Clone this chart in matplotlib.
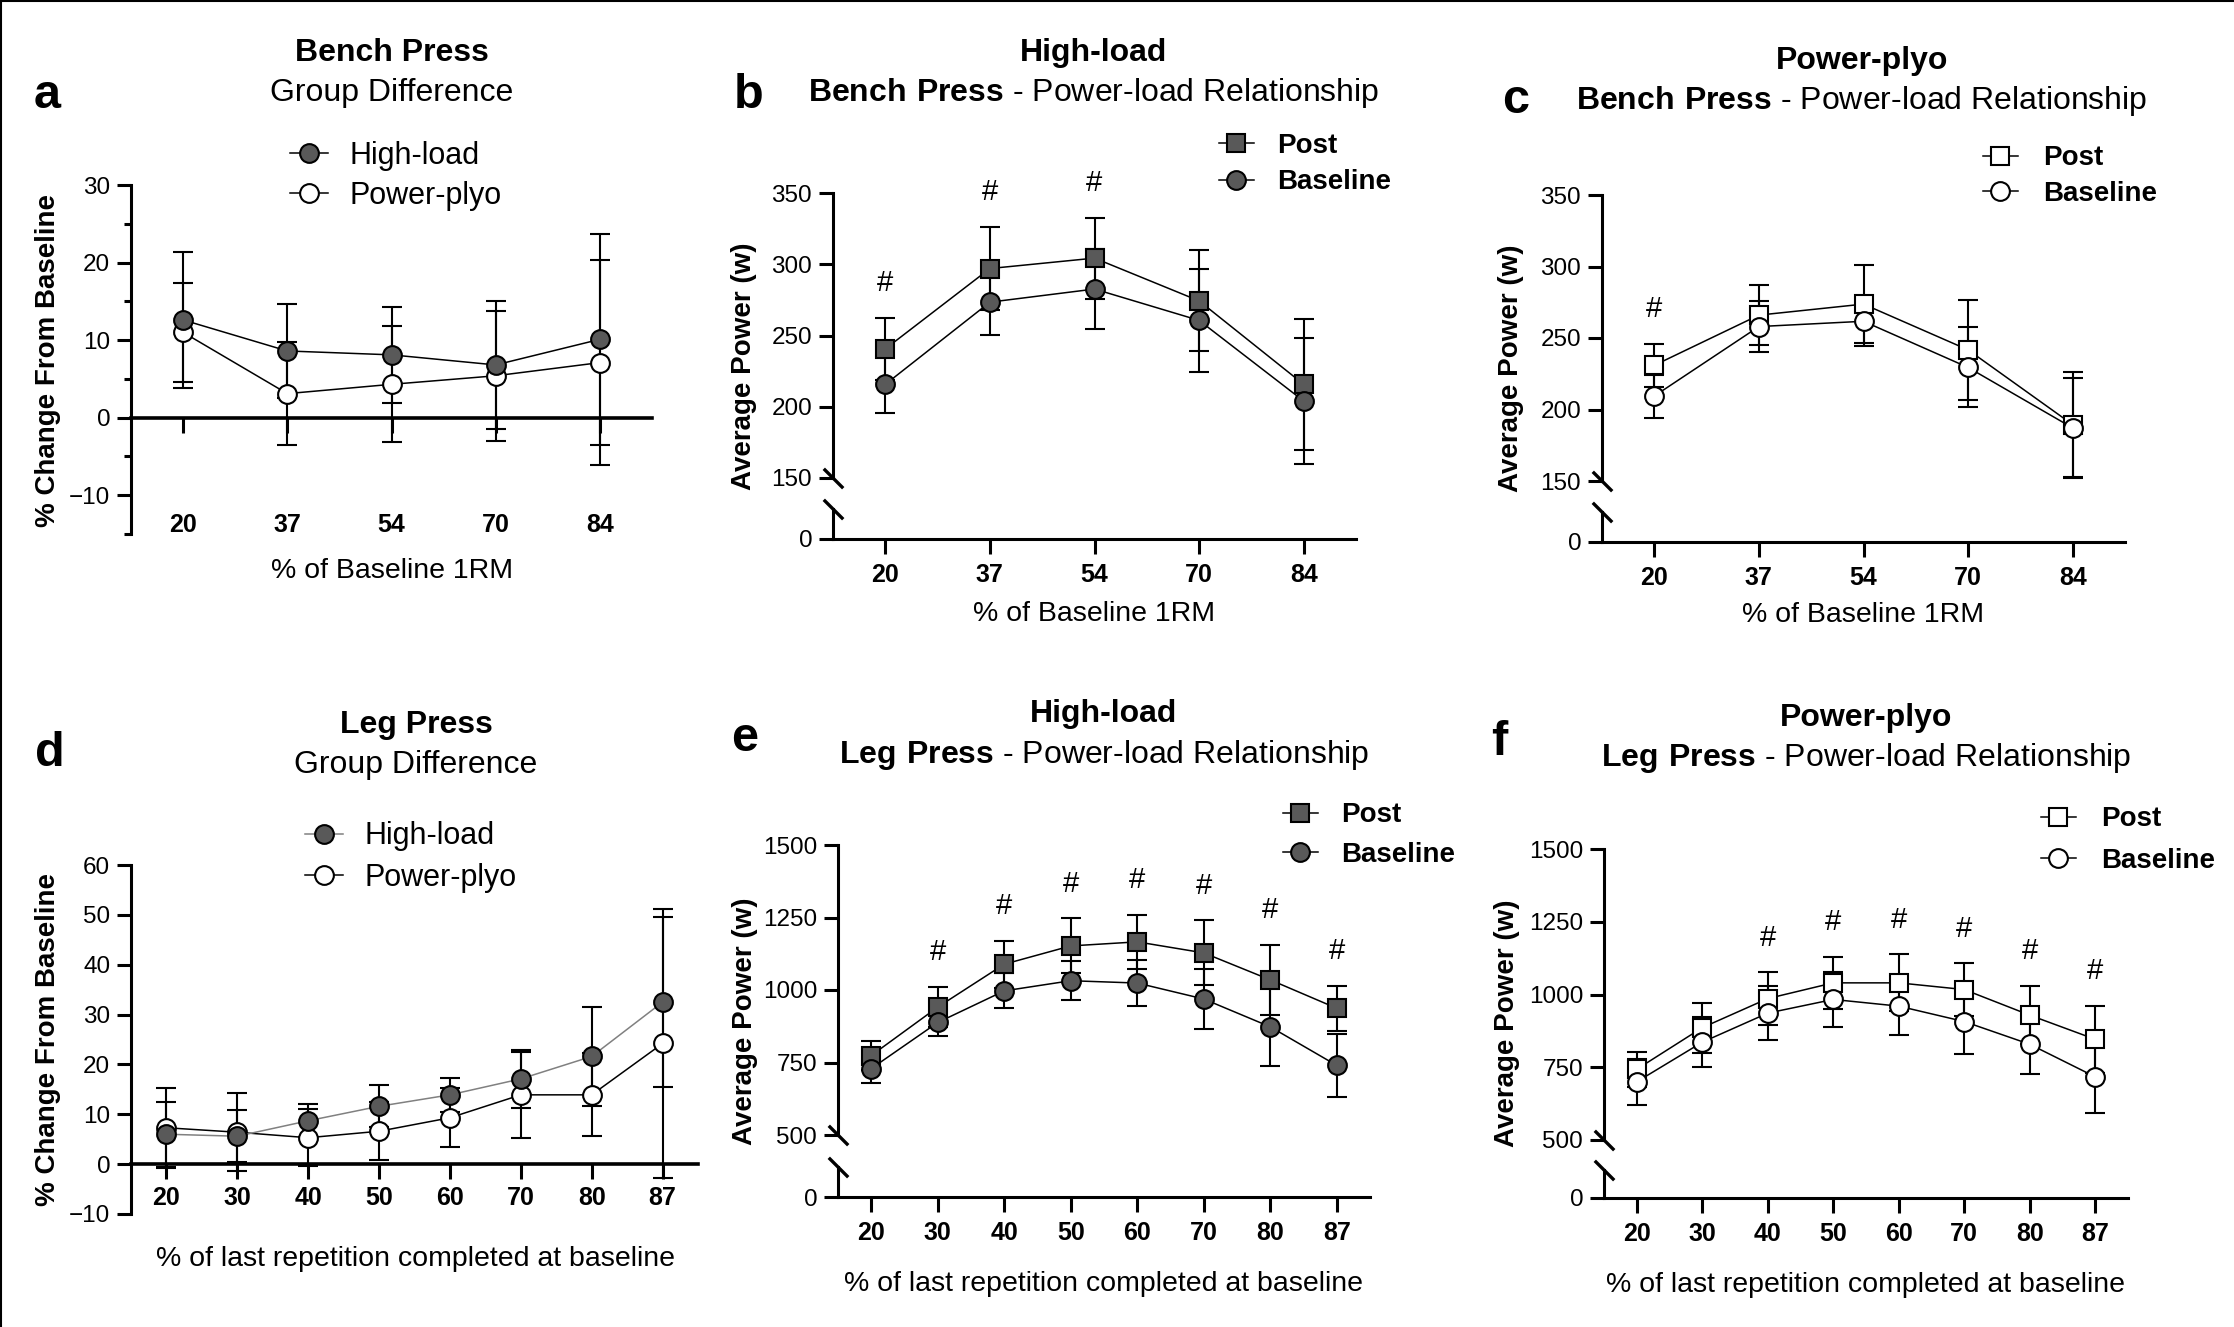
import numpy as np
import matplotlib
matplotlib.use('Agg')
import matplotlib.pyplot as plt
from matplotlib.lines import Line2D

plt.rcParams['font.family'] = 'Liberation Sans'
plt.rcParams['mathtext.fontset'] = 'custom'
plt.rcParams['mathtext.rm'] = 'Liberation Sans'
plt.rcParams['mathtext.bf'] = 'Liberation Sans:bold'

# ---- data ----
bench_loads = ['20', '37', '54', '70', '84']
leg_loads = ['20', '30', '40', '50', '60', '70', '80', '87']

# a: bench press, % change from baseline
a_hl = [12.6, 8.6, 8.1, 6.8, 10.1]
a_hl_err = [8.8, 6.0, 6.2, 8.3, 13.6]
a_pp = [11.0, 3.1, 4.3, 5.4, 7.1]
a_pp_err = [6.4, 6.6, 7.5, 8.4, 13.2]

# b: high-load bench press power
b_post = [240.6, 297.0, 304.3, 274.3, 215.7]
b_post_err = [22, 29, 28.5, 35.5, 46]
b_base = [215.7, 273.4, 282.6, 260.6, 204.0]
b_base_err = [20, 23, 28, 36, 44]
b_sig = [1, 1, 1, 0, 0]

# c: power-plyo bench press power
c_post = [230.9, 266.0, 273.7, 241.7, 189.4]
c_post_err = [15, 21, 27.5, 35, 36.6]
c_base = [209.4, 258.0, 261.7, 229.4, 187.1]
c_base_err = [15, 18, 17, 28, 35]
c_sig = [1, 0, 0, 0, 0]

# d: leg press, % change from baseline
d_hl = [6.0, 5.6, 8.7, 11.6, 13.9, 17.1, 21.6, 32.5]
d_hl_err = [6.5, 5.2, 3.3, 4.2, 3.4, 5.8, 10.0, 17.0]
d_pp = [7.3, 6.4, 5.3, 6.6, 9.3, 13.9, 13.9, 24.2]
d_pp_err = [8.0, 7.8, 5.7, 5.8, 5.9, 8.6, 8.3, 27.0]

# e: high-load leg press power
e_post = [774, 941, 1089, 1152, 1166, 1128, 1035, 937]
e_post_err = [50, 70, 81, 95, 93, 112, 120, 77]
e_base = [729, 888, 997, 1032, 1024, 969, 873, 740]
e_base_err = [49, 47, 60, 67, 79, 105, 134, 108]
e_sig = [0, 1, 1, 1, 1, 1, 1, 1]

# f: power-plyo leg press power
f_post = [743, 886, 986, 1040, 1040, 1017, 929, 846]
f_post_err = [61, 86, 90, 89, 98, 90, 100, 116]
f_base = [700, 836, 936, 983, 960, 907, 829, 717]
f_base_err = [79, 86, 93, 95, 100, 110, 103, 124]
f_sig = [0, 0, 1, 1, 1, 1, 1, 1]

# ---- layout helpers (pixel coords, origin top-left) ----
W, H = 2234, 1327
DARK = '#595959'
LW = 2.2

fig = plt.figure(figsize=(W / 100, H / 100), dpi=100)


def box(l, t, r, b):
    return fig.add_axes([l / W, 1 - b / H, (r - l) / W, (b - t) / H])


def ftext(x, y, s, **kw):
    fig.text(x / W, 1 - y / H, s, **kw)


def errs(ax, x, y, e):
    ax.errorbar(x, y, yerr=e, fmt='none', ecolor='k', elinewidth=1.5,
                capsize=7, capthick=1.5, zorder=2, clip_on=False)


def series(ax, x, y, marker, face, label, z, color='k'):
    ms = 12.5 if marker == 's' else 13.5
    h, = ax.plot(x, y, color=color, lw=1.1, marker=marker, ms=ms, mfc=face,
                 mec='k', mew=1.5, zorder=z, label=label, clip_on=False)
    return h


def legend(ax, handles, x, y, fs, bold, pad, spacing):
    ax.legend(handles=handles, loc='center left',
              bbox_to_anchor=(x / W, 1 - y / H), bbox_transform=fig.transFigure,
              frameon=False, prop={'size': fs, 'weight': 'bold' if bold else 'normal'},
              handlelength=1.25, handletextpad=pad, labelspacing=spacing,
              borderpad=0, borderaxespad=0, numpoints=1)


def yaxis_style(ax):
    for s in ('top', 'right'):
        ax.spines[s].set_visible(False)
    ax.spines['left'].set_linewidth(LW)
    ax.tick_params(axis='y', which='major', length=10, width=LW, labelsize=17.5, pad=5)
    ax.tick_params(axis='y', which='minor', length=5, width=LW)


def xaxis_style(ax, labels, pad):
    ax.set_xticks(np.arange(len(labels)))
    ax.set_xticklabels(labels, fontweight='bold', fontsize=18)
    ax.tick_params(axis='x', length=11, width=LW, pad=pad)
    ax.spines['bottom'].set_linewidth(LW)
    ax.set_xlim(-0.5, len(labels) - 0.5)


def brk(ax, y):
    ax.plot([0], [y], transform=ax.transAxes, marker=[(-1, 1), (1, -1)], ms=14,
            mec='k', mfc='none', mew=2.4, clip_on=False, zorder=6)


def group_panel(rect, labels, hl, hl_err, pp, pp_err, ylim, yticks, minor,
                pad, hl_line, leg_xy, leg_pad, leg_sp):
    ax = box(*rect)
    x = np.arange(len(labels))
    errs(ax, x, pp, pp_err)
    errs(ax, x, hl, hl_err)
    h_pp = series(ax, x, pp, 'o', 'white', 'Power-plyo', 3)
    h_hl = series(ax, x, hl, 'o', DARK, 'High-load', 4, color=hl_line)
    ax.set_ylim(*ylim)
    ax.set_yticks(yticks)
    if minor:
        ax.set_yticks(minor, minor=True)
    yaxis_style(ax)
    ax.spines['bottom'].set_position(('data', 0))
    xaxis_style(ax, labels, pad)
    ax.spines['bottom'].set_linewidth(2.6)
    legend(ax, [h_hl, h_pp], leg_xy[0], leg_xy[1], 22, False, leg_pad, leg_sp)
    return ax


def power_panel(rect_top, rect_low, labels, post, post_err, base, base_err, sig,
                ylim, yticks, filled, leg_xy, leg_pad, leg_sp):
    top = box(*rect_top)
    low = box(*rect_low)
    x = np.arange(len(labels))
    face = DARK if filled else 'white'
    errs(top, x, post, post_err)
    errs(top, x, base, base_err)
    h_post = series(top, x, post, 's', face, 'Post', 3)
    h_base = series(top, x, base, 'o', face, 'Baseline', 4)
    for i, s in enumerate(sig):
        if s:
            top.annotate('#', xy=(i, post[i] + post_err[i]), xytext=(0, 25),
                         textcoords='offset points', ha='center', va='center',
                         fontsize=21, annotation_clip=False)
    top.set_ylim(*ylim)
    top.set_yticks(yticks)
    yaxis_style(top)
    top.spines['bottom'].set_visible(False)
    top.set_xlim(-0.5, len(labels) - 0.5)
    top.tick_params(axis='x', bottom=False, labelbottom=False)
    low.set_ylim(0, 1)
    low.set_yticks([0])
    yaxis_style(low)
    xaxis_style(low, labels, 6)
    brk(top, 0)
    brk(low, 1)
    legend(top, [h_post, h_base], leg_xy[0], leg_xy[1], 20, True, leg_pad, leg_sp)
    return top, low


# ---- panels ----
group_panel((131, 185, 652, 534), bench_loads, a_hl, a_hl_err, a_pp, a_pp_err,
            (-15, 30), [-10, 0, 10, 20, 30], [-15, -5, 5, 15, 25], 58, 'k',
            (290, 176), 0.7, 0.33)
power_panel((833, 193, 1356, 478), (833, 509, 1356, 539), bench_loads,
            b_post, b_post_err, b_base, b_base_err, b_sig,
            (150, 350), [150, 200, 250, 300, 350], True, (1219, 164), 0.83, 0.38)
power_panel((1602, 195, 2125, 481), (1602, 512, 2125, 542), bench_loads,
            c_post, c_post_err, c_base, c_base_err, c_sig,
            (150, 350), [150, 200, 250, 300, 350], False, (1983, 176), 0.9, 0.33)
group_panel((131, 865, 698, 1214), leg_loads, d_hl, d_hl_err, d_pp, d_pp_err,
            (-10, 60), list(range(-10, 61, 10)), None, 5, '#808080',
            (305, 857), 0.7, 0.37)
power_panel((838, 845, 1370, 1135), (838, 1167, 1370, 1197), leg_loads,
            e_post, e_post_err, e_base, e_base_err, e_sig,
            (500, 1500), [500, 750, 1000, 1250, 1500], True, (1283, 835), 0.86, 0.48)
power_panel((1604, 849, 2128, 1140), (1604, 1170, 2128, 1198), leg_loads,
            f_post, f_post_err, f_base, f_base_err, f_sig,
            (500, 1500), [500, 750, 1000, 1250, 1500], False, (2041, 840), 0.92, 0.54)

# ---- titles, letters, axis labels ----
TS = 23
titles = [
    (392, 53, 93, 'Bench Press', 'Group Difference'),
    (1094, 53, 93, 'High-load', r'$\mathbf{Bench\ Press}$ - Power-load Relationship'),
    (1862, 61, 101, 'Power-plyo', r'$\mathbf{Bench\ Press}$ - Power-load Relationship'),
    (416, 725, 765, 'Leg Press', 'Group Difference'),
    (1104, 714, 755, 'High-load', r'$\mathbf{Leg\ Press}$ - Power-load Relationship'),
    (1866, 718, 758, 'Power-plyo', r'$\mathbf{Leg\ Press}$ - Power-load Relationship'),
]
for x, y1, y2, t1, t2 in titles:
    ftext(x, y1, t1, fontsize=TS, fontweight='bold', ha='center', va='center')
    ftext(x, y2, t2, fontsize=TS, ha='center', va='center')

for x, y, s in [(47, 108, 'a'), (749, 108, 'b'), (1516, 113, 'c'),
                (50, 766, 'd'), (745, 751, 'e'), (1499, 755, 'f')]:
    ftext(x, y, s, fontsize=35, fontweight='bold', ha='center', va='baseline')

bench_xl = '% of Baseline 1RM'
leg_xl = '% of last repetition completed at baseline'
for x, y, s in [(392, 571, bench_xl), (1094, 614, bench_xl), (1863, 615, bench_xl),
                (415, 1259, leg_xl), (1104, 1284, leg_xl), (1866, 1285, leg_xl)]:
    ftext(x, y, s, fontsize=20.5, ha='center', va='center')

for x, y, s in [(48, 360, '% Change From Baseline'), (744, 366, 'Average Power (w)'),
                (1511, 368, 'Average Power (w)'), (48, 1040, '% Change From Baseline'),
                (745, 1021, 'Average Power (w)'), (1507, 1023, 'Average Power (w)')]:
    ftext(x, y, s, fontsize=20, fontweight='bold', rotation=90, ha='center', va='center')

# thin frame on top and left edges
fig.add_artist(Line2D([0, 1], [1 - 1 / H, 1 - 1 / H], transform=fig.transFigure, color='k', lw=1.5))
fig.add_artist(Line2D([1 / W, 1 / W], [0, 1], transform=fig.transFigure, color='k', lw=1.5))

fig.savefig('out.png', dpi=100)
